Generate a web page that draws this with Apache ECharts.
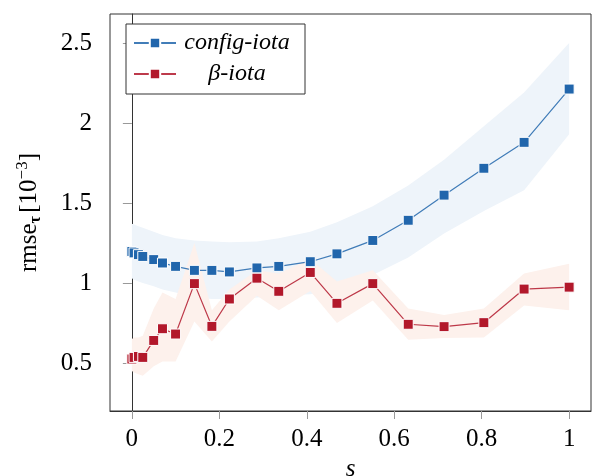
<!DOCTYPE html>
<html lang="en">
<head>
    <meta charset="UTF-8">
    <title>rmse</title>
    <script src="https://cdn.jsdelivr.net/npm/echarts@6/dist/echarts.min.js"></script>
    <style>
        html, body { margin: 0; padding: 0; background: #fff; }
        #main { width: 593px; height: 476px; }
    </style>
</head>
<body>
<div id="main"></div>
<script type="text/javascript">
    // s values (shared by both series and bands)
    var sVals = [0, 0.005, 0.015, 0.025, 0.05, 0.07, 0.1, 0.143, 0.183, 0.223,
        0.286, 0.336, 0.408, 0.469, 0.551, 0.632, 0.714, 0.805, 0.897, 1.0];

    // config-iota
    var configMean = [1.197, 1.188, 1.177, 1.166, 1.146, 1.125, 1.104, 1.079, 1.079, 1.069,
        1.094, 1.104, 1.133, 1.182, 1.266, 1.392, 1.549, 1.717, 1.879, 2.212];
    var configLow = [1.03, 1.02, 1.01, 1.0, 0.98, 0.96, 0.94, 0.91, 0.90, 0.90,
        0.91, 0.92, 0.93, 0.97, 1.05, 1.16, 1.31, 1.45, 1.58, 1.93];
    var configHigh = [1.37, 1.365, 1.355, 1.345, 1.32, 1.30, 1.28, 1.265, 1.26, 1.255,
        1.26, 1.28, 1.32, 1.38, 1.48, 1.61, 1.77, 1.98, 2.19, 2.5];

    // beta-iota
    var betaMean = [0.525, 0.535, 0.541, 0.535, 0.641, 0.714, 0.681, 0.996, 0.729, 0.90,
        1.03, 0.948, 1.066, 0.873, 0.996, 0.742, 0.727, 0.752, 0.962, 0.974];
    var betaLow = [0.45, 0.44, 0.43, 0.42, 0.48, 0.51, 0.51, 0.76, 0.635, 0.76,
        0.92, 0.83, 0.95, 0.75, 0.89, 0.646, 0.656, 0.66, 0.86, 0.83];
    var betaHigh = [0.65, 0.66, 0.66, 0.67, 0.84, 0.94, 0.90, 1.25, 0.83, 0.96,
        1.08, 1.06, 1.15, 1.01, 1.08, 0.84, 0.80, 0.84, 1.06, 1.12];

    var xTicks = [0, 0.2, 0.4, 0.6, 0.8, 1];
    var yTicks = [0.5, 1, 1.5, 2, 2.5];

    var serif = '"Liberation Serif", "DejaVu Serif", serif';

    function zip2(xs, ys) {
        var out = [];
        for (var i = 0; i < xs.length; i++) out.push([xs[i], ys[i]]);
        return out;
    }
    function bandData(lo, hi) {
        var out = [];
        for (var i = 0; i < sVals.length; i++) out.push([sVals[i], lo[i], hi[i]]);
        return out;
    }
    // one polygon for the whole band, drawn on the first item only
    function bandRenderer(lo, hi, fill) {
        return function (params, api) {
            if (params.dataIndex !== 0) return;
            var pts = [];
            for (var i = 0; i < sVals.length; i++) pts.push(api.coord([sVals[i], hi[i]]));
            for (var j = sVals.length - 1; j >= 0; j--) pts.push(api.coord([sVals[j], lo[j]]));
            return {type: 'polygon', shape: {points: pts}, style: {fill: fill}};
        };
    }

    var myChart = echarts.init(document.getElementById('main'));

    var option = {
        animation: false,
        backgroundColor: '#fff',
        grid: {
            left: 110, right: 2, top: 14, bottom: 65,
            containLabel: false, outerBoundsMode: 'none',
            show: true, borderColor: '#333', borderWidth: 1, backgroundColor: 'transparent'
        },
        legend: {
            orient: 'vertical',
            left: 126, top: 24,
            padding: [7, 12, 8, 7],
            itemGap: 7,
            itemWidth: 42, itemHeight: 13,
            borderColor: '#333', borderWidth: 1, borderRadius: 0,
            backgroundColor: '#fff',
            data: ['config-iota', '\u03b2-iota'],
            formatter: function (name) { return '{t|' + name + '}'; },
            textStyle: {
                rich: {
                    t: {
                        width: 112, align: 'center', lineHeight: 26,
                        fontFamily: serif, fontStyle: 'italic', fontSize: 24, color: '#000'
                    }
                }
            }
        },
        xAxis: {
            type: 'value',
            min: -0.05, max: 1.05,
            name: 's',
            nameLocation: 'middle',
            nameGap: 38,
            nameTextStyle: {fontFamily: serif, fontStyle: 'italic', fontSize: 25, color: '#000'},
            axisLine: {lineStyle: {color: '#333', width: 1}},
            axisTick: {show: true, length: 8, customValues: xTicks, lineStyle: {color: '#999'}},
            axisLabel: {
                customValues: xTicks, margin: 16,
                fontFamily: serif, fontSize: 25, color: '#000'
            },
            splitLine: {show: false}
        },
        yAxis: {
            type: 'value',
            min: 0.2, max: 2.681,
            name: '{a|rmse}{sub|\u03c4} {a|[10}{sup|\u22123}{a|]}',
            nameLocation: 'middle',
            nameRotate: 90,
            nameGap: 66,
            nameTextStyle: {
                rich: {
                    a: {fontFamily: serif, fontSize: 25, color: '#000', lineHeight: 30},
                    sub: {fontFamily: serif, fontSize: 16, fontWeight: 'bold', color: '#000',
                        lineHeight: 14, verticalAlign: 'bottom'},
                    sup: {fontFamily: serif, fontSize: 17, color: '#000',
                        lineHeight: 14, verticalAlign: 'top'}
                }
            },
            axisLine: {show: true, lineStyle: {color: '#333', width: 1}},
            axisTick: {show: true, length: 9, customValues: yTicks, lineStyle: {color: '#999'}},
            axisLabel: {
                customValues: yTicks, margin: 18,
                fontFamily: serif, fontSize: 25, color: '#000'
            },
            splitLine: {show: false}
        },
        series: [
            {
                name: 'config-band',
                type: 'custom',
                z: 1,
                silent: true,
                encode: {x: 0, y: [1, 2]},
                data: bandData(configLow, configHigh),
                renderItem: bandRenderer(configLow, configHigh, '#eef4fa')
            },
            {
                name: 'beta-band',
                type: 'custom',
                z: 1,
                silent: true,
                encode: {x: 0, y: [1, 2]},
                data: bandData(betaLow, betaHigh),
                renderItem: bandRenderer(betaLow, betaHigh, '#fdf1ec')
            },
            {
                name: 'config-iota',
                type: 'line',
                z: 3,
                data: zip2(sVals, configMean),
                symbol: 'rect',
                symbolSize: 10,
                showAllSymbol: true,
                lineStyle: {color: '#2166ac', width: 1.2, opacity: 0.85},
                itemStyle: {color: '#2166ac', borderColor: '#fff', borderWidth: 1}
            },
            {
                name: '\u03b2-iota',
                type: 'line',
                z: 4,
                data: zip2(sVals, betaMean),
                symbol: 'rect',
                symbolSize: 10,
                showAllSymbol: true,
                lineStyle: {color: '#b2182b', width: 1.2, opacity: 0.85},
                itemStyle: {color: '#b2182b', borderColor: '#fff', borderWidth: 1}
            }
        ]
    };

    myChart.setOption(option);
</script>
</body>
</html>
